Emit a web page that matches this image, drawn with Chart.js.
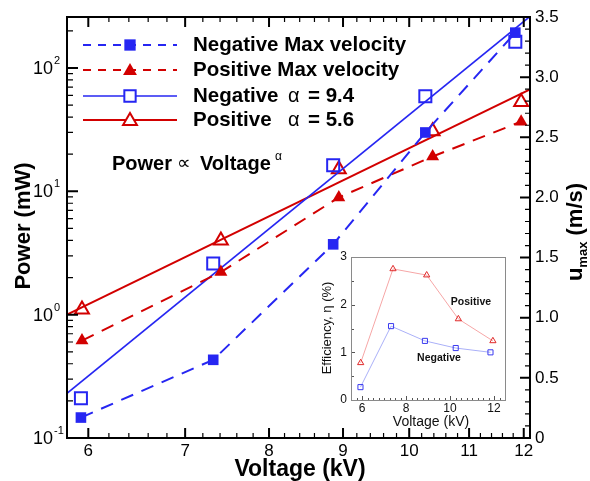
<!DOCTYPE html>
<html><head><meta charset="utf-8">
<script src="https://cdn.jsdelivr.net/npm/chart.js@4"></script>
<style>
html,body{margin:0;padding:0;background:#fff;}
#wrap{position:relative;width:590px;height:481px;overflow:hidden;}
#main{position:absolute;left:0;top:0;}
#inset{position:absolute;left:300px;top:245px;}
</style></head><body>
<div id="wrap"><canvas id="main" width="590" height="481"></canvas><canvas id="inset" width="220" height="195"></canvas></div>
<script>
// ---- data ----
const negVoltage = [5.93, 7.32, 8.86, 10.26, 11.84];
const posVoltage = [5.94, 7.41, 8.94, 10.38, 11.95];
const negVelocity = [0.17, 0.65, 1.61, 2.54, 3.37];
const posVelocity = [0.81, 1.38, 2.0, 2.34, 2.63];
const negPower = [0.21, 2.6, 16.3, 59, 163];
const posPower = [1.1, 4.0, 15.1, 30.7, 53];
const negFitVoltage = [5.8, 12.12];
const negFitPower = [0.23, 262];
const posFitVoltage = [5.8, 12.12];
const posFitPower = [1.0, 67];
const negEfficiency = [0.27, 1.55, 1.24, 1.09, 1.0];
const posEfficiency = [0.78, 2.75, 2.62, 1.70, 1.24];
const voltageTicks = [6, 7, 8, 9, 10, 11, 12];
const powerTicks = [0.1, 1, 10, 100];
const powerExponents = ['-1', '0', '1', '2'];
const insetVoltageTicks = [6, 8, 10, 12];
const legendLabels = ['Negative Max velocity', 'Positive Max velocity', 'Negative', 'Positive'];
const alphaValues = ['9.4', '5.6'];

const BLUE = '#2626f2', RED = '#d20000';
const FONT = '"Liberation Sans", Arial, "DejaVu Sans", sans-serif';
const toXY = (xs, ys) => xs.map((v, i) => ({x: v, y: ys[i]}));
const CLEAR = 'rgba(0,0,0,0)';

const mainPlugin = {
  id: 'mainDecor',
  afterDatasetsDraw(chart) {
    const {ctx, chartArea: {left, right, top, bottom}, scales: {x, y, y2}} = chart;
    ctx.save();
    ctx.strokeStyle = '#000';
    ctx.fillStyle = '#000';
    // x ticks (bottom and top, inward)
    const xMinor = [];
    for (let k = 29; k <= 60; k++) { if (k % 5) xMinor.push(k / 5); }
    ctx.lineWidth = 1.2; ctx.beginPath();
    xMinor.forEach(v => { const p = x.getPixelForValue(v); ctx.moveTo(p, bottom); ctx.lineTo(p, bottom - 5); ctx.moveTo(p, top); ctx.lineTo(p, top + 5); });
    ctx.stroke();
    ctx.lineWidth = 2; ctx.beginPath();
    voltageTicks.forEach(v => { const p = x.getPixelForValue(v); ctx.moveTo(p, bottom); ctx.lineTo(p, bottom - 10); ctx.moveTo(p, top); ctx.lineTo(p, top + 10); });
    ctx.stroke();
    // left log ticks
    ctx.lineWidth = 1.2; ctx.beginPath();
    powerTicks.forEach(d => { for (let m = 2; m <= 9; m++) { const v = m * d; if (v <= y.max) { const p = y.getPixelForValue(v); ctx.moveTo(left, p); ctx.lineTo(left + 6, p); } } });
    ctx.stroke();
    ctx.lineWidth = 2; ctx.beginPath();
    powerTicks.forEach(v => { const p = y.getPixelForValue(v); ctx.moveTo(left, p); ctx.lineTo(left + 11, p); });
    ctx.stroke();
    // right linear ticks
    ctx.lineWidth = 1.2; ctx.beginPath();
    for (let k = 0; k <= 35; k++) { if (k % 5) { const p = y2.getPixelForValue(k / 10); ctx.moveTo(right, p); ctx.lineTo(right - 5, p); } }
    ctx.stroke();
    ctx.lineWidth = 2; ctx.beginPath();
    for (let k = 0; k <= 35; k += 5) { const p = y2.getPixelForValue(k / 10); ctx.moveTo(right, p); ctx.lineTo(right - 10, p); }
    ctx.stroke();
    // frame
    ctx.lineWidth = 2;
    ctx.strokeRect(left, top, right - left, bottom - top);

    // left tick labels with superscripts
    ctx.textBaseline = 'middle'; ctx.textAlign = 'left';
    powerTicks.forEach((v, i) => {
      const p = y.getPixelForValue(v);
      ctx.font = '18px ' + FONT; ctx.fillText('10', 33, p + 1);
      ctx.font = '11px ' + FONT; ctx.fillText(powerExponents[i], 54, p - 7);
    });

    // axis titles
    ctx.textAlign = 'center'; ctx.textBaseline = 'alphabetic';
    ctx.font = 'bold 23px ' + FONT;
    ctx.fillText('Voltage (kV)', 300, 476);
    ctx.save(); ctx.translate(30, 226); ctx.rotate(-Math.PI / 2);
    ctx.font = 'bold 22px ' + FONT; ctx.fillText('Power (mW)', 0, 0);
    ctx.restore();
    ctx.save(); ctx.translate(582, 232); ctx.rotate(-Math.PI / 2);
    ctx.textAlign = 'left';
    ctx.font = 'bold 22px ' + FONT; const wU = ctx.measureText('u').width; const wR = ctx.measureText(' (m/s)').width;
    ctx.font = 'bold 13px ' + FONT; const wS = ctx.measureText('max').width;
    let sx = -(wU + wS + wR) / 2;
    ctx.font = 'bold 22px ' + FONT; ctx.fillText('u', sx, 0); sx += wU;
    ctx.font = 'bold 13px ' + FONT; ctx.fillText('max', sx, 5); sx += wS;
    ctx.font = 'bold 22px ' + FONT; ctx.fillText(' (m/s)', sx, 0);
    ctx.restore();

    // legend
    const rows = [45, 70, 96, 120];
    const styles = [
      {color: BLUE, dash: [8, 7], lw: 2, pt: 'rect', filled: true, r: 8},
      {color: RED, dash: [8, 7], lw: 2, pt: 'triangle', filled: true, r: 8},
      {color: BLUE, dash: [], lw: 1.6, pt: 'rect', filled: false, r: 8},
      {color: RED, dash: [], lw: 2, pt: 'triangle', filled: false, r: 8}
    ];
    styles.forEach((s, i) => {
      const yy = rows[i];
      ctx.strokeStyle = s.color; ctx.lineWidth = s.lw; ctx.setLineDash(s.dash);
      ctx.beginPath(); ctx.moveTo(83, yy); ctx.lineTo(177, yy); ctx.stroke();
      ctx.setLineDash([]);
      ctx.fillStyle = s.filled ? s.color : '#fff';
      ctx.lineWidth = s.filled ? 0 : 2;
      Chart.helpers.drawPoint(ctx, {pointStyle: s.pt, radius: s.r, rotation: 0, borderWidth: s.filled ? 0 : 2}, 130, s.pt === 'triangle' ? yy + 1 : yy);
    });
    ctx.fillStyle = '#000'; ctx.textAlign = 'left'; ctx.textBaseline = 'middle';
    ctx.font = 'bold 20.5px ' + FONT;
    ctx.fillText(legendLabels[0], 193, rows[0]);
    ctx.fillText(legendLabels[1], 193, rows[1]);
    [2, 3].forEach((r, j) => {
      ctx.font = 'bold 20.5px ' + FONT; ctx.fillText(legendLabels[r], 193, rows[r]);
      ctx.font = '20px ' + FONT; ctx.fillText('\u03b1', 288, rows[r]);
      ctx.font = 'bold 20.5px ' + FONT; ctx.fillText('= ' + alphaValues[j], 308, rows[r]);
    });

    // annotation
    ctx.textBaseline = 'alphabetic';
    ctx.font = 'bold 20px ' + FONT; ctx.fillText('Power', 112, 170);
    ctx.font = '19px "DejaVu Sans", ' + FONT; ctx.fillText('\u221d', 177, 169);
    ctx.font = 'bold 20px ' + FONT; ctx.fillText('Voltage', 200, 170);
    ctx.font = '12px ' + FONT; ctx.fillText('\u03b1', 275, 160);
    ctx.restore();
  }
};

new Chart(document.getElementById('main'), {
  type: 'line',
  data: {
    datasets: [
      {label: 'Negative Max velocity', data: toXY(negVoltage, negVelocity), yAxisID: 'y2',
       borderColor: BLUE, backgroundColor: BLUE, borderWidth: 2, borderDash: [13, 9],
       pointStyle: 'rect', pointRadius: 7.5, pointBorderWidth: 0, pointBackgroundColor: BLUE},
      {label: 'Positive Max velocity', data: toXY(posVoltage, posVelocity), yAxisID: 'y2',
       borderColor: RED, backgroundColor: RED, borderWidth: 2, borderDash: [13, 9],
       pointStyle: 'triangle', pointRadius: 7.5, pointBorderWidth: 0, pointBackgroundColor: RED},
      {label: 'Negative fit', data: toXY(negFitVoltage, negFitPower), yAxisID: 'y',
       borderColor: BLUE, borderWidth: 1.6, pointRadius: 0},
      {label: 'Positive fit', data: toXY(posFitVoltage, posFitPower), yAxisID: 'y',
       borderColor: RED, borderWidth: 2, pointRadius: 0},
      {label: 'Negative power', data: toXY(negVoltage, negPower), yAxisID: 'y', showLine: false,
       borderColor: BLUE, pointStyle: 'rect', pointRadius: 8.5, pointBorderWidth: 2,
       pointBorderColor: BLUE, pointBackgroundColor: CLEAR},
      {label: 'Positive power', data: toXY(posVoltage, posPower), yAxisID: 'y', showLine: false,
       borderColor: RED, pointStyle: 'triangle', pointRadius: 8, pointBorderWidth: 2,
       pointBorderColor: RED, pointBackgroundColor: CLEAR}
    ]
  },
  options: {
    responsive: false, animation: false, events: [],
    layout: {padding: {top: 17, left: 0, right: 0, bottom: 0}},
    plugins: {legend: {display: false}, tooltip: {enabled: false}},
    scales: {
      x: {type: 'logarithmic', min: 5.8, max: 12.12,
          afterFit: s => { s.height = 43; },
          afterBuildTicks: s => { s.ticks = voltageTicks.map(v => ({value: v})); },
          grid: {display: false, drawTicks: false}, border: {display: false},
          ticks: {padding: 3, color: '#000', font: {family: FONT, size: 17}, autoSkip: false, maxRotation: 0,
                  callback: v => String(v)}},
      y: {type: 'logarithmic', position: 'left', min: 0.1, max: 259,
          afterFit: s => { s.width = 67; },
          grid: {display: false, drawTicks: false}, border: {display: false},
          ticks: {display: false}},
      y2: {type: 'linear', position: 'right', min: 0, max: 3.5,
           afterFit: s => { s.width = 60; },
           grid: {display: false, drawTicks: false}, border: {display: false},
           ticks: {stepSize: 0.5, padding: 5, color: '#000', font: {family: FONT, size: 17}}}
    }
  },
  plugins: [mainPlugin]
});

const insetPlugin = {
  id: 'insetDecor',
  afterDatasetsDraw(chart) {
    const {ctx, chartArea: {left, right, top, bottom}, scales: {x, y}} = chart;
    ctx.save();
    ctx.strokeStyle = '#555'; ctx.lineWidth = 1;
    ctx.beginPath();
    for (let k = 22; k <= 50; k++) { const p = Math.round(x.getPixelForValue(k / 4)) + 0.5; const len = (k % 8 === 0) ? 4 : 2; ctx.moveTo(p, bottom); ctx.lineTo(p, bottom - len); }
    for (let k = 0; k <= 6; k++) { const p = Math.round(y.getPixelForValue(k / 2)) + 0.5; const len = (k % 2 === 0) ? 4 : 3; ctx.moveTo(left, p); ctx.lineTo(left + len, p); }
    ctx.stroke();
    ctx.strokeStyle = '#8a8a8a';
    ctx.strokeRect(Math.round(left) + 0.5, Math.round(top) + 0.5, Math.round(right - left), Math.round(bottom - top));
    ctx.fillStyle = '#111'; ctx.textAlign = 'center'; ctx.textBaseline = 'middle';
    ctx.font = 'bold 10.5px ' + FONT;
    ctx.fillText('Positive', 171, 57);
    ctx.fillText('Negative', 139, 113);
    ctx.font = '14px ' + FONT;
    ctx.fillText('Voltage (kV)', 131, 177);
    ctx.save(); ctx.translate(27, 83); ctx.rotate(-Math.PI / 2);
    ctx.font = '13px ' + FONT; ctx.fillText('Efficiency, \u03b7 (%)', 0, 0);
    ctx.restore();
    ctx.restore();
  }
};

new Chart(document.getElementById('inset'), {
  type: 'line',
  data: {
    datasets: [
      {label: 'Positive', data: toXY(posVoltage, posEfficiency), borderColor: '#f6a6a6', borderWidth: 1,
       pointStyle: 'triangle', pointRadius: 3.6, pointBorderWidth: 1, pointBorderColor: '#e02a2a', pointBackgroundColor: CLEAR},
      {label: 'Negative', data: toXY(negVoltage, negEfficiency), borderColor: '#aab0f8', borderWidth: 1,
       pointStyle: 'rect', pointRadius: 3.6, pointBorderWidth: 1, pointBorderColor: '#3a3af0', pointBackgroundColor: CLEAR}
    ]
  },
  options: {
    responsive: false, animation: false, events: [],
    layout: {padding: {top: 12, right: 15, left: 0, bottom: 0}},
    plugins: {legend: {display: false}, tooltip: {enabled: false}},
    scales: {
      x: {type: 'linear', min: 5.5, max: 12.5,
          afterFit: s => { s.height = 40; },
          afterBuildTicks: s => { s.ticks = insetVoltageTicks.map(v => ({value: v})); },
          grid: {display: false, drawTicks: false}, border: {display: false},
          ticks: {padding: 1, color: '#111', font: {family: FONT, size: 12}, autoSkip: false, maxRotation: 0}},
      y: {type: 'linear', min: 0, max: 3,
          afterFit: s => { s.width = 51; },
          grid: {display: false, drawTicks: false}, border: {display: false},
          ticks: {stepSize: 1, padding: 4, color: '#111', font: {family: FONT, size: 12}}}
    }
  },
  plugins: [insetPlugin]
});
</script>
</body></html>
